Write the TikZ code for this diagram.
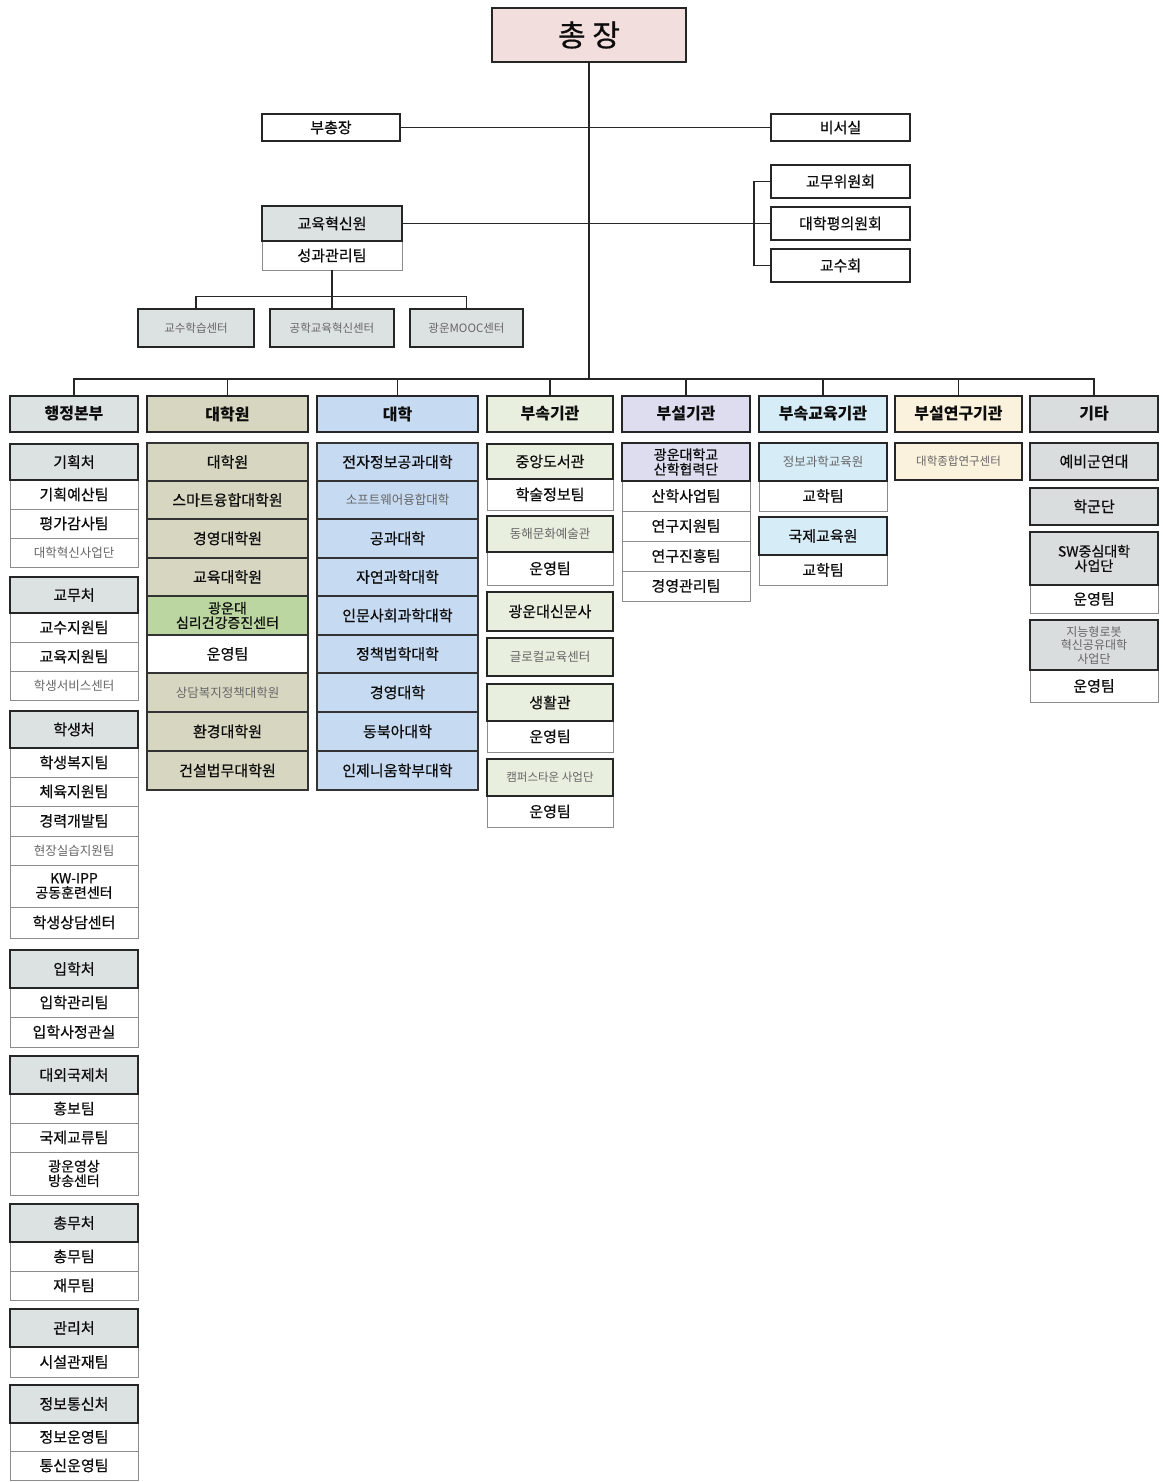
\documentclass[tikz,border=0pt]{standalone}
\usepackage{fontspec}
\newfontfamily\kr{Noto Sans CJK KR}
\newfontfamily\krm[FakeBold=0.6]{Noto Sans CJK KR}
\definecolor{cjfill}{HTML}{F2DEDD}
\definecolor{gA}{HTML}{DCE1E1}
\definecolor{cGrad}{HTML}{D7D7C1}
\definecolor{cGreen}{HTML}{BCD6A2}
\definecolor{cUni}{HTML}{C6DAF2}
\definecolor{cAtt}{HTML}{E8EFDF}
\definecolor{cAff}{HTML}{DEDDF0}
\definecolor{cEdu}{HTML}{D6ECF6}
\definecolor{cRes}{HTML}{FBF2DD}
\definecolor{cEtc}{HTML}{D9DDDD}
\newcommand\obox[7]{%
  \node[#6, minimum width={(#4-#2)*1pt}, minimum height={(#5-#3)*1pt}] (#1) at ({(#2+#4)/2},{(#3+#5)/2}) {#7};}
\tikzset{
  conn/.style={draw=black!85, line width=1.2pt},
  bb/.style={inner sep=0pt, align=center, font=\krm\fontsize{15}{16.5}\selectfont, text=black!95},
  hd/.style={bb, draw=black!85, line width=1.4pt},
  sb/.style={bb, draw=black!45, line width=0.7pt, fill=white},
  cell/.style={bb, draw=black!80, line width=1.1pt},
  two/.style={font=\krm\fontsize{14}{14.5}\selectfont},
  dim/.style={text=black!60, font=\kr\fontsize{12.5}{14}\selectfont},
  tiny/.style={text=black!60, font=\kr\fontsize{11.5}{13}\selectfont},
  bold/.style={font=\kr\bfseries\fontsize{16}{18}\selectfont},
}
\begin{document}
\begin{tikzpicture}[x=1pt,y=-1pt]
\fill[white] (0,0) rectangle (1162,1482);
\useasboundingbox (0,0) rectangle (1162,1482);

% ---------- top ----------
\obox{cj}{492}{8}{686}{62}{hd, fill=cjfill, font=\krm\fontsize{30}{32}\selectfont}{총 장}
\obox{vp}{262}{114}{400}{141}{hd, fill=white}{부총장}
\obox{sec}{771}{114}{910}{141}{hd, fill=white}{비서실}
\obox{c1}{771}{165}{910}{198}{hd, fill=white}{교무위원회}
\obox{c2}{771}{207}{910}{240}{hd, fill=white}{대학평의원회}
\obox{c3}{771}{249}{910}{282}{hd, fill=white}{교수회}
\obox{ep}{262}{241}{402}{270}{sb}{성과관리팀}
\obox{ei}{262}{206}{402}{241}{hd, fill=gA}{교육혁신원}
\obox{s1}{138}{309}{254}{347}{hd, fill=gA, tiny}{교수학습센터}
\obox{s2}{270}{309}{394}{347}{hd, fill=gA, tiny}{공학교육혁신센터}
\obox{s3}{410}{309}{523}{347}{hd, fill=gA, tiny}{광운MOOC센터}

\coordinate (bar) at (589,379);
\coordinate (bk) at (754,0);
\draw[conn] (cj.south) -- (bar);
\draw[conn] (vp.east) -- (sec.west);
\draw[conn] (ei.east) -- (ei.east -| c2.west);
\draw[conn] (c1.west) -- (c1.west -| bk) -- (c3.west -| bk) -- (c3.west);
\draw[conn] (ep.south) -- ++(0,26) coordinate (sj);
\draw[conn] (s1.north) |- (sj) -| (s3.north);
\draw[conn] (s2.north) -- (s2.north |- sj);

% ---------- column headers ----------
\obox{h1}{10}{396}{138}{432}{hd, fill=gA, bold}{행정본부}
\obox{h2}{147}{396}{308}{432}{hd, fill=cGrad, bold}{대학원}
\obox{h3}{317}{396}{478}{432}{hd, fill=cUni, bold}{대학}
\obox{h4}{487}{396}{613}{432}{hd, fill=cAtt, bold}{부속기관}
\obox{h5}{622}{396}{750}{432}{hd, fill=cAff, bold}{부설기관}
\obox{h6}{759}{396}{887}{432}{hd, fill=cEdu, bold}{부속교육기관}
\obox{h7}{895}{396}{1022}{432}{hd, fill=cRes, bold}{부설연구기관}
\obox{h8}{1030}{396}{1158}{432}{hd, fill=cEtc, bold}{기타}
\draw[conn] (h1.north) -- (h1.north |- bar) -- (h8.north |- bar) -- (h8.north);
\foreach \h in {h2,h3,h4,h5,h6,h7} \draw[conn] (\h.north) -- (\h.north |- bar);

% ---------- 행정본부 ----------
\obox{a11}{10}{480}{138}{509}{sb}{기획예산팀}
\obox{a12}{10}{509}{138}{538}{sb}{평가감사팀}
\obox{a13}{10}{538}{138}{567}{sb, dim}{대학혁신사업단}
\obox{a1}{10}{444}{138}{480}{hd, fill=gA}{기획처}
\obox{a21}{10}{613}{138}{642}{sb}{교수지원팀}
\obox{a22}{10}{642}{138}{671}{sb}{교육지원팀}
\obox{a23}{10}{671}{138}{700}{sb, dim}{학생서비스센터}
\obox{a2}{10}{577}{138}{613}{hd, fill=gA}{교무처}
\obox{a31}{10}{748}{138}{777}{sb}{학생복지팀}
\obox{a32}{10}{777}{138}{806}{sb}{체육지원팀}
\obox{a33}{10}{806}{138}{836}{sb}{경력개발팀}
\obox{a34}{10}{836}{138}{865}{sb, dim}{현장실습지원팀}
\obox{a35}{10}{865}{138}{907}{sb, two}{KW-IPP\\공동훈련센터}
\obox{a36}{10}{907}{138}{938}{sb}{학생상담센터}
\obox{a3}{10}{711}{138}{748}{hd, fill=gA}{학생처}
\obox{a41}{10}{988}{138}{1017}{sb}{입학관리팀}
\obox{a42}{10}{1017}{138}{1047}{sb}{입학사정관실}
\obox{a4}{10}{950}{138}{988}{hd, fill=gA}{입학처}
\obox{a51}{10}{1094}{138}{1123}{sb}{홍보팀}
\obox{a52}{10}{1123}{138}{1152}{sb}{국제교류팀}
\obox{a53}{10}{1152}{138}{1195}{sb, two}{광운영상\\방송센터}
\obox{a5}{10}{1056}{138}{1094}{hd, fill=gA}{대외국제처}
\obox{a61}{10}{1242}{138}{1271}{sb}{총무팀}
\obox{a62}{10}{1271}{138}{1300}{sb}{재무팀}
\obox{a6}{10}{1204}{138}{1242}{hd, fill=gA}{총무처}
\obox{a71}{10}{1347}{138}{1377}{sb}{시설관재팀}
\obox{a7}{10}{1309}{138}{1347}{hd, fill=gA}{관리처}
\obox{a81}{10}{1423}{138}{1451}{sb}{정보운영팀}
\obox{a82}{10}{1451}{138}{1480}{sb}{통신운영팀}
\obox{a8}{10}{1385}{138}{1423}{hd, fill=gA}{정보통신처}

% ---------- 대학원 ----------
\obox{b1}{147}{443}{308}{481}{cell, fill=cGrad}{대학원}
\obox{b2}{147}{481}{308}{519}{cell, fill=cGrad}{스마트융합대학원}
\obox{b3}{147}{519}{308}{558}{cell, fill=cGrad}{경영대학원}
\obox{b4}{147}{558}{308}{596}{cell, fill=cGrad}{교육대학원}
\obox{b5}{147}{596}{308}{635}{cell, fill=cGreen, two}{광운대\\심리건강증진센터}
\obox{b6}{147}{635}{308}{673}{cell, fill=white}{운영팀}
\obox{b7}{147}{673}{308}{712}{cell, fill=cGrad, dim}{상담복지정책대학원}
\obox{b8}{147}{712}{308}{751}{cell, fill=cGrad}{환경대학원}
\obox{b9}{147}{751}{308}{790}{cell, fill=cGrad}{건설법무대학원}

% ---------- 대학 ----------
\obox{u1}{317}{443}{478}{481}{cell, fill=cUni}{전자정보공과대학}
\obox{u2}{317}{481}{478}{519}{cell, fill=cUni, dim}{소프트웨어융합대학}
\obox{u3}{317}{519}{478}{558}{cell, fill=cUni}{공과대학}
\obox{u4}{317}{558}{478}{596}{cell, fill=cUni}{자연과학대학}
\obox{u5}{317}{596}{478}{635}{cell, fill=cUni}{인문사회과학대학}
\obox{u6}{317}{635}{478}{673}{cell, fill=cUni}{정책법학대학}
\obox{u7}{317}{673}{478}{712}{cell, fill=cUni}{경영대학}
\obox{u8}{317}{712}{478}{751}{cell, fill=cUni}{동북아대학}
\obox{u9}{317}{751}{478}{790}{cell, fill=cUni}{인제니움학부대학}

% ---------- 부속기관 ----------
\obox{d11}{487}{479}{613}{510}{sb}{학술정보팀}
\obox{d1}{487}{444}{613}{479}{hd, fill=cAtt}{중앙도서관}
\obox{d21}{487}{552}{613}{585}{sb}{운영팀}
\obox{d2}{487}{516}{613}{552}{hd, fill=cAtt, dim}{동해문화예술관}
\obox{d3}{487}{592}{613}{631}{hd, fill=cAtt}{광운대신문사}
\obox{d4}{487}{638}{613}{676}{hd, fill=cAtt, dim}{글로컬교육센터}
\obox{d51}{487}{721}{613}{752}{sb}{운영팀}
\obox{d5}{487}{684}{613}{721}{hd, fill=cAtt}{생활관}
\obox{d61}{487}{796}{613}{827}{sb}{운영팀}
\obox{d6}{487}{759}{613}{796}{hd, fill=cAtt, tiny}{캠퍼스타운 사업단}

% ---------- 부설기관 ----------
\obox{e11}{622}{481}{750}{511}{sb}{산학사업팀}
\obox{e12}{622}{511}{750}{541}{sb}{연구지원팀}
\obox{e13}{622}{541}{750}{571}{sb}{연구진흥팀}
\obox{e14}{622}{571}{750}{601}{sb}{경영관리팀}
\obox{e1}{622}{443}{750}{481}{hd, fill=cAff, two}{광운대학교\\산학협력단}

% ---------- 부속교육기관 ----------
\obox{f11}{759}{481}{887}{511}{sb}{교학팀}
\obox{f1}{759}{443}{887}{481}{hd, fill=cEdu, dim}{정보과학교육원}
\obox{f21}{759}{555}{887}{585}{sb}{교학팀}
\obox{f2}{759}{517}{887}{555}{hd, fill=cEdu}{국제교육원}

% ---------- 부설연구기관 ----------
\obox{g1}{895}{443}{1022}{480}{hd, fill=cRes, tiny}{대학종합연구센터}

% ---------- 기타 ----------
\obox{k1}{1030}{443}{1158}{480}{hd, fill=cEtc}{예비군연대}
\obox{k2}{1030}{488}{1158}{525}{hd, fill=cEtc}{학군단}
\obox{k31}{1030}{585}{1158}{613}{sb}{운영팀}
\obox{k3}{1030}{532}{1158}{585}{hd, fill=cEtc, two}{SW중심대학\\사업단}
\obox{k41}{1030}{670}{1158}{702}{sb}{운영팀}
\obox{k4}{1030}{620}{1158}{670}{hd, fill=cEtc, text=black!60, font=\kr\fontsize{12}{13.5}\selectfont}{지능형로봇\\혁신공유대학\\사업단}
\end{tikzpicture}
\end{document}
